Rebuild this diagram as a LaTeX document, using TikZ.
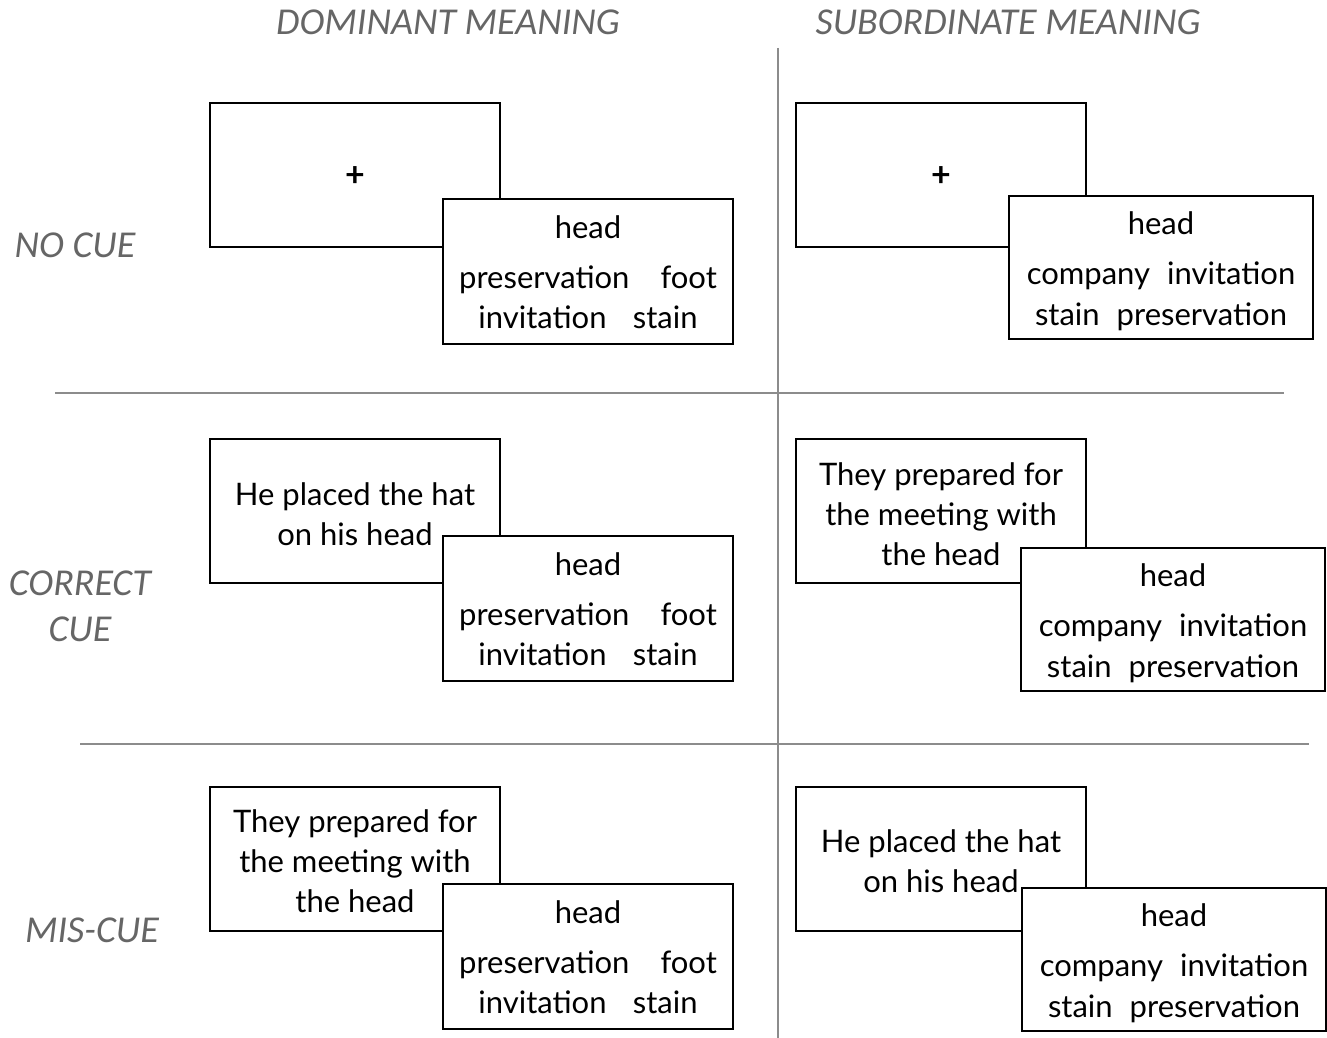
\documentclass[tikz,border=0pt]{standalone}
\usepackage{fontspec}
\setmainfont{Lato}
\newfontfamily\labelfont{Carlito}
\definecolor{lbl}{gray}{0.40}
\definecolor{rulegray}{gray}{0.55}
\begin{document}
\begin{tikzpicture}[x=0.5pt,y=-0.5pt,
  bigcard/.style={draw=black, line width=1pt, fill=white, inner sep=0pt, anchor=north west, minimum width=145pt, minimum height=72pt},
  smallL/.style={draw=black, line width=1pt, fill=white, inner sep=0pt, anchor=north west, minimum width=145pt, minimum height=72.5pt},
  smallR/.style={draw=black, line width=1pt, fill=white, inner sep=0pt, anchor=north west, minimum width=152pt, minimum height=71.5pt},
  txt/.style={font=\fontsize{15.5}{20}\selectfont, inner sep=0pt, align=center},
  plus/.style={font=\fontsize{17}{20}\selectfont\bfseries, inner sep=0pt},
  lab/.style={font=\labelfont\itshape\fontsize{19}{23}\selectfont, text=lbl, inner sep=0pt, align=center},
  sep/.style={draw=rulegray, line width=1pt}
]
\useasboundingbox (0,0) rectangle (1327,1038);

% headers and row labels
\node[lab] (hdom) at (448,22) {DOMINANT MEANING};
\node[lab] (hsub) at (1008,22) {SUBORDINATE MEANING};
\node[lab] (lno) at (75,245) {NO CUE};
\node[lab] (lcor) at (80,606) {CORRECT\\CUE};
\node[lab] (lmis) at (92,930) {MIS-CUE};

% separators
\coordinate (vtop) at (778,48);
\coordinate (vbot) at (778,1038);
\coordinate (h1a) at (55,393);
\coordinate (h1b) at (1284,393);
\coordinate (h2a) at (80,744);
\coordinate (h2b) at (1309,744);
\draw[sep] (vtop) -- (vbot);
\draw[sep] (h1a) -- (h1b);
\draw[sep] (h2a) -- (h2b);

% ---------- row 1: no cue ----------
\node[bigcard] (b11) at (209,102) {};
\node[plus] (b11t) at ([yshift=-1pt]b11.center) {+};
\node[smallL] (s11) at (442,198) {};
\node[txt, anchor=base] (s11a) at ([yshift=-20pt]s11.north) {head};
\node[txt, anchor=base] (s11b) at ([yshift=-45pt]s11.north) {preservation\quad foot};
\node[txt, anchor=base] (s11c) at ([yshift=-65pt]s11.north) {invitation\hspace{0.85em}stain};

\node[bigcard] (b12) at (795,102) {};
\node[plus] (b12t) at ([yshift=-1pt]b12.center) {+};
\node[smallR] (s12) at (1008,195) {};
\node[txt, anchor=base] (s12a) at ([yshift=-19.5pt]s12.north) {head};
\node[txt, anchor=base] (s12b) at ([yshift=-44.5pt]s12.north) {company\hspace{0.55em}invitation};
\node[txt, anchor=base] (s12c) at ([yshift=-65pt]s12.north) {stain\hspace{0.55em}preservation};

% ---------- row 2: correct cue ----------
\node[bigcard] (b21) at (209,438) {};
\node[txt] (b21t) at ([yshift=-1.5pt]b21.center) {He placed the hat\\on his head};
\node[smallL] (s21) at (442,535) {};
\node[txt, anchor=base] (s21a) at ([yshift=-20pt]s21.north) {head};
\node[txt, anchor=base] (s21b) at ([yshift=-45pt]s21.north) {preservation\quad foot};
\node[txt, anchor=base] (s21c) at ([yshift=-65pt]s21.north) {invitation\hspace{0.85em}stain};

\node[bigcard] (b22) at (795,438) {};
\node[txt] (b22t) at ([yshift=-1.5pt]b22.center) {They prepared for\\the meeting with\\the head};
\node[smallR] (s22) at (1020,547) {};
\node[txt, anchor=base] (s22a) at ([yshift=-19.5pt]s22.north) {head};
\node[txt, anchor=base] (s22b) at ([yshift=-44.5pt]s22.north) {company\hspace{0.55em}invitation};
\node[txt, anchor=base] (s22c) at ([yshift=-65pt]s22.north) {stain\hspace{0.55em}preservation};

% ---------- row 3: mis-cue ----------
\node[bigcard] (b31) at (209,786) {};
\node[txt] (b31t) at ([yshift=-1pt]b31.center) {They prepared for\\the meeting with\\the head};
\node[smallL] (s31) at (442,883) {};
\node[txt, anchor=base] (s31a) at ([yshift=-20pt]s31.north) {head};
\node[txt, anchor=base] (s31b) at ([yshift=-45pt]s31.north) {preservation\quad foot};
\node[txt, anchor=base] (s31c) at ([yshift=-65pt]s31.north) {invitation\hspace{0.85em}stain};

\node[bigcard] (b32) at (795,786) {};
\node[txt] (b32t) at ([yshift=-1pt]b32.center) {He placed the hat\\on his head};
\node[smallR] (s32) at (1021,887) {};
\node[txt, anchor=base] (s32a) at ([yshift=-19.5pt]s32.north) {head};
\node[txt, anchor=base] (s32b) at ([yshift=-44.5pt]s32.north) {company\hspace{0.55em}invitation};
\node[txt, anchor=base] (s32c) at ([yshift=-65pt]s32.north) {stain\hspace{0.55em}preservation};
\end{tikzpicture}
\end{document}
